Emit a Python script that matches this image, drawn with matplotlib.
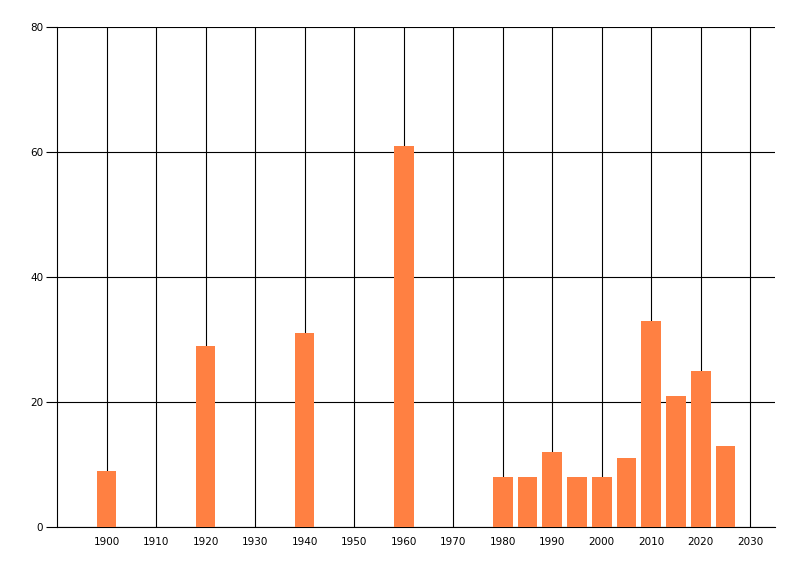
import matplotlib
matplotlib.use("Agg")
import matplotlib.pyplot as plt

# values
years = [1900, 1920, 1940, 1960, 1980, 1985, 1990, 1995, 2000, 2005, 2010, 2015, 2020, 2025]
counts = [9, 29, 31, 61, 8, 8, 12, 8, 8, 11, 33, 21, 25, 13]

x_ticks = list(range(1900, 2031, 10))
y_ticks = [0, 20, 40, 60, 80]

BAR_COLOR = "#FF8042"

fig = plt.figure(figsize=(8, 5.76), dpi=100)
ax = fig.add_axes([0.07125, 0.085, 0.8975, 0.868])

ax.bar(years, counts, width=4.0, color=BAR_COLOR, zorder=3)

ax.set_xlim(1890, 2035)
ax.set_ylim(0, 80)
ax.set_xticks(x_ticks)
ax.set_yticks(y_ticks)

# solid black grid behind the bars
ax.set_axisbelow(True)
ax.grid(True, color="black", linewidth=0.8, linestyle="-", zorder=0)

for side in ("top", "right"):
    ax.spines[side].set_visible(False)
ax.spines["left"].set_linewidth(0.8)
ax.spines["bottom"].set_linewidth(0.8)

ax.tick_params(axis="x", length=0, pad=7, labelsize=7.5, colors="black")
ax.tick_params(axis="y", length=8, width=0.8, pad=2, labelsize=7.5, colors="black")

fig.savefig("out.png", dpi=100)
